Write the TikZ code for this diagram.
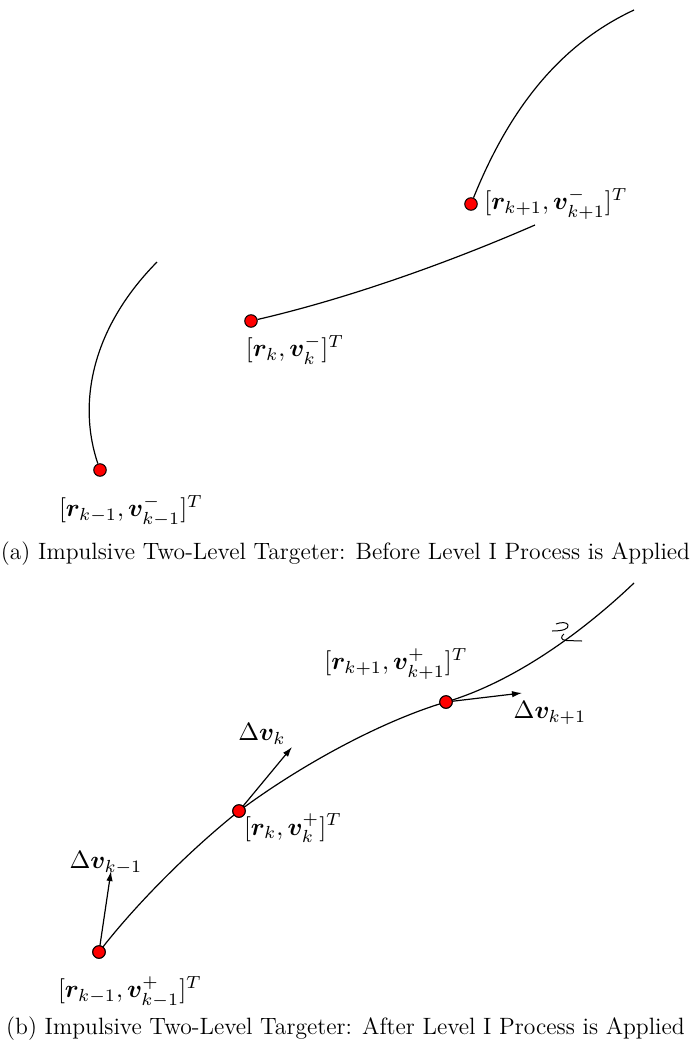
\documentclass[tikz,border=0pt]{standalone}
\usepackage{amsmath,bm}
\usetikzlibrary{arrows.meta}
\newlength{\pxu}\setlength{\pxu}{0.5pt}
\tikzset{
  dot/.style={circle,draw=black,fill=red,inner sep=0pt,minimum size=12.5\pxu,line width=0.5pt},
  traj/.style={line width=0.6pt},
  dv/.style={line width=0.6pt,-{Latex[length=5pt,width=3.2pt]}},
  lab/.style={inner sep=0pt,scale=1.25},
  captext/.style={inner sep=0pt,font=\fontsize{11.8}{14}\selectfont},
  brk/.style={line width=0.5pt},
}
\begin{document}
\begin{tikzpicture}[x=0.5pt,y=-0.5pt]
\useasboundingbox (0,0) rectangle (691,1049);
% ---- (a)
\node[dot] (a1) at (100,470) {};
\node[dot] (a2) at (251,321) {};
\node[dot] (a3) at (471,204) {};
\coordinate (a1e) at (157,262);
\coordinate (a2e) at (535,225);
\coordinate (a3e) at (634,10);
\draw[traj] (a1) .. controls (78,405) and (90,330) .. (a1e);
\draw[traj] (a2) .. controls (350,298) and (450,262) .. (a2e);
\draw[traj] (a3) .. controls (515,95) and (570,40) .. (a3e);
\node[lab] (la1) at (131,511) {$[\bm{r}_{k-1},\bm{v}^-_{k-1}]^T$};
\node[lab] (la2) at (295,350) {$[\bm{r}_{k},\bm{v}^-_{k}]^T$};
\node[lab] (la3) at (556,204) {$[\bm{r}_{k+1},\bm{v}^-_{k+1}]^T$};
\node[captext] (capa) at (345.5,554) {(a) Impulsive Two-Level Targeter: Before Level I Process is Applied};
% ---- (b)
\node[dot] (b1) at (99,952) {};
\node[dot] (b2) at (239,811) {};
\node[dot] (b3) at (446,702) {};
\coordinate (be) at (634,583);
\draw[traj] (b1.center) .. controls (135,905) and (190,850) .. (b2.center)
  .. controls (305,762) and (385,720) .. (b3.center)
  .. controls (520,680) and (590,625) .. (be);
\coordinate (d1) at (111,871);
\coordinate (d2) at (292,747);
\coordinate (d3) at (522,693);
\draw[dv] (b1.center) -- (d1);
\draw[dv] (b2.center) -- (d2);
\draw[dv] (b3.center) -- (d3);
\node[dot] at (b1) {};
\node[dot] at (b2) {};
\node[dot] at (b3) {};
% break mark
\draw[brk] (556,624) .. controls (561,622) and (567,622) .. (568,625) .. controls (569,629) and (563,631) .. (552,631);
\draw[brk] (564,634) .. controls (561,636) and (560,640) .. (566,640.5) -- (582,641);
\node[lab] (lb1) at (130,992) {$[\bm{r}_{k-1},\bm{v}^+_{k-1}]^T$};
\node[lab] (lb2) at (293,828) {$[\bm{r}_{k},\bm{v}^+_{k}]^T$};
\node[lab] (lb3) at (396,664) {$[\bm{r}_{k+1},\bm{v}^+_{k+1}]^T$};
\node[lab] (ld1) at (106,863) {$\Delta\bm{v}_{k-1}$};
\node[lab] (ld2) at (262,734) {$\Delta\bm{v}_{k}$};
\node[lab] (ld3) at (550,713) {$\Delta\bm{v}_{k+1}$};
\node[captext] (capb) at (345.5,1029) {(b) Impulsive Two-Level Targeter: After Level I Process is Applied};
\end{tikzpicture}
\end{document}
